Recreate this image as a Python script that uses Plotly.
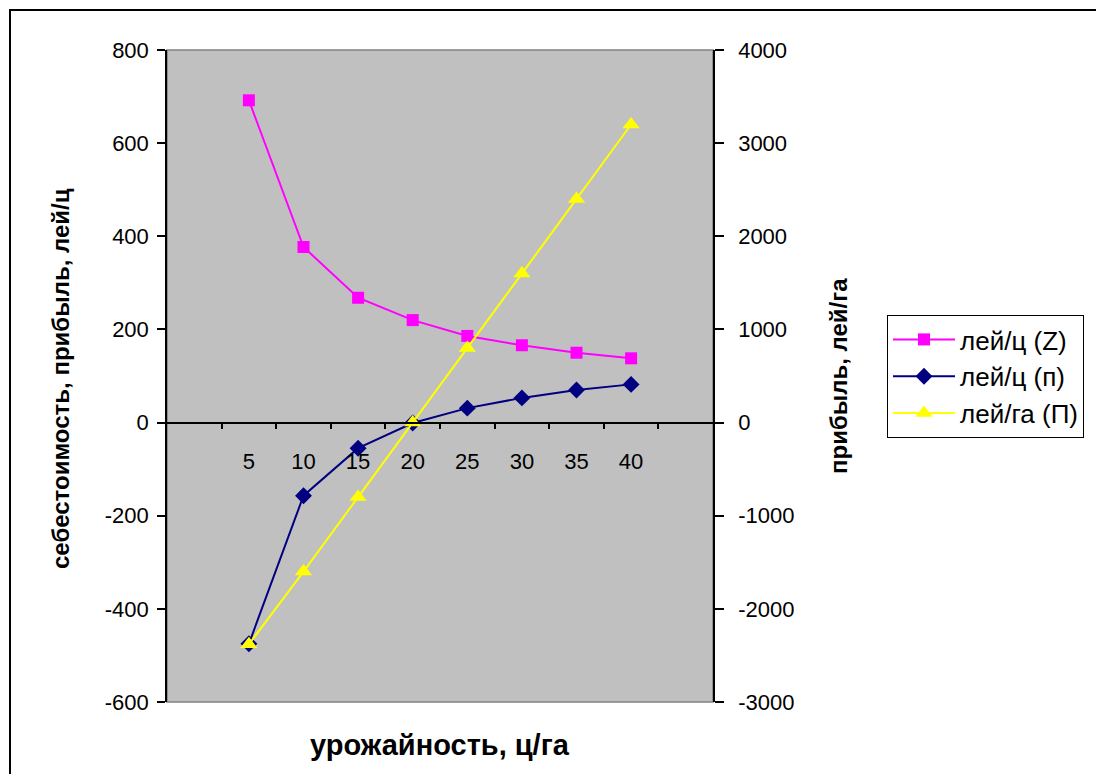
import plotly.graph_objects as go

# Data
yield_cats = [5, 10, 15, 20, 25, 30, 35, 40]
cost_Z = [692, 377, 268, 220, 186, 166, 150, 138]
profit_p = [-475, -157, -55, -1, 31, 53, 70, 82]
profit_P = [-2380, -1600, -800, 0, 800, 1600, 2400, 3200]
left_ticks = [-600, -400, -200, 0, 200, 400, 600, 800]
right_ticks = [-3000, -2000, -1000, 0, 1000, 2000, 3000, 4000]

series_names = ["лей/ц (Z)", "лей/ц (п)", "лей/га (П)"]
x_title = "урожайность, ц/га"
y_title = "себестоимость, прибыль, лей/ц"
y2_title = "прибыль, лей/га"

FONT = "Liberation Sans, Arial, sans-serif"
TICK_SIZE = 22

# plot area in page pixels: x 167..713, y 50..702 (page body has 8px margin)
PX0, PW, PY0, PH = 167, 546, 50, 652
def px(X):
    return (X - PX0) / PW
def py(Y):
    return (PY0 + PH - Y) / PH

fig = go.Figure()
fig.add_trace(go.Scatter(x=yield_cats, y=cost_Z, name=series_names[0], mode="lines+markers",
                         line=dict(color="#ff00ff", width=2),
                         marker=dict(symbol="square", size=12, color="#ff00ff")))
fig.add_trace(go.Scatter(x=yield_cats, y=profit_p, name=series_names[1], mode="lines+markers",
                         line=dict(color="#000080", width=2),
                         marker=dict(symbol="diamond", size=13, color="#000080")))
fig.add_trace(go.Scatter(x=yield_cats, y=profit_P, name=series_names[2], mode="lines+markers",
                         yaxis="y2",
                         line=dict(color="#ffff00", width=2),
                         marker=dict(symbol="triangle-up", size=15, color="#ffff00")))

xrange = [yield_cats[0] - 7.5, yield_cats[-1] + 7.5]
boundaries = [v - 2.5 for v in yield_cats] + [yield_cats[-1] + 2.5]
zero_pos = (0 - left_ticks[0]) / (left_ticks[-1] - left_ticks[0])

fig.update_layout(
    width=1088, height=766,
    margin=dict(l=PX0 - 8, r=1088 - (PX0 - 8) - PW, t=PY0 - 8, b=766 - (PY0 - 8) - PH),
    paper_bgcolor="white", plot_bgcolor="#c0c0c0",
    font=dict(family=FONT, size=TICK_SIZE, color="black"),
    showlegend=True,
    legend=dict(x=px(887), y=py(315), xanchor="left", yanchor="top",
                bgcolor="white", bordercolor="black", borderwidth=1,
                font=dict(family=FONT, size=26, color="black"), itemwidth=62,
                tracegroupgap=0),
    xaxis=dict(range=xrange, anchor="free", position=zero_pos, side="bottom",
               showline=True, linecolor="black", linewidth=1.5,
               tickmode="array", tickvals=yield_cats, ticktext=[str(v) for v in yield_cats],
               ticks="", ticklabelstandoff=19, showgrid=False, zeroline=False,
               minor=dict(tickmode="array", tickvals=boundaries, ticks="outside",
                          ticklen=6, tickcolor="black", tickwidth=1.5, showgrid=False)),
    xaxis3=dict(range=xrange, overlaying="x", anchor="free", position=zero_pos, side="bottom",
                showline=False, tickmode="array", tickvals=boundaries, ticks="inside",
                ticklen=6, tickcolor="black", tickwidth=1.5, showticklabels=False,
                showgrid=False, zeroline=False),
    yaxis=dict(range=[left_ticks[0], left_ticks[-1]], tickmode="array", tickvals=left_ticks,
               ticktext=[str(v) for v in left_ticks],
               showline=True, linecolor="black", linewidth=1.5, ticks="outside", ticklen=8,
               tickcolor="black", tickwidth=1.5, ticklabelstandoff=4,
               showgrid=False, zeroline=False),
    yaxis3=dict(range=[left_ticks[0], left_ticks[-1]], overlaying="y", side="left",
                anchor="x", tickmode="array", tickvals=left_ticks, ticks="inside", ticklen=8,
                tickcolor="black", tickwidth=1.5, showticklabels=False, showline=False,
                showgrid=False, zeroline=False),
    yaxis2=dict(range=[right_ticks[0], right_ticks[-1]], overlaying="y", side="right",
                anchor="x", tickmode="array", tickvals=right_ticks,
                ticktext=[str(v) for v in right_ticks],
                showline=True, linecolor="black", linewidth=1.5, ticks="outside", ticklen=9,
                tickcolor="black", tickwidth=1.5, ticklabelstandoff=10,
                showgrid=False, zeroline=False),
    yaxis4=dict(range=[right_ticks[0], right_ticks[-1]], overlaying="y", side="right",
                anchor="x", tickmode="array", tickvals=right_ticks, ticks="inside", ticklen=9,
                tickcolor="black", tickwidth=1.5, showticklabels=False, showline=False,
                showgrid=False, zeroline=False),
    annotations=[
        dict(text=f"<b>{x_title}</b>", xref="paper", yref="paper",
             x=0.5, y=py(745), xanchor="center", yanchor="middle",
             showarrow=False, font=dict(family=FONT, size=29, color="black")),
        dict(text=f"<b>{y_title}</b>", xref="paper", yref="paper", textangle=-90,
             x=px(60), y=py(379), xanchor="center", yanchor="middle",
             showarrow=False, font=dict(family=FONT, size=24, color="black")),
        dict(text=f"<b>{y2_title}</b>", xref="paper", yref="paper", textangle=-90,
             x=px(838), y=0.5, xanchor="center", yanchor="middle",
             showarrow=False, font=dict(family=FONT, size=24, color="black")),
    ],
    shapes=[
        dict(type="rect", xref="x domain", yref="y domain", x0=0, x1=1, y0=0, y1=1,
             line=dict(color="#808080", width=1.5), layer="below"),
        dict(type="rect", xref="paper", yref="paper",
             x0=px(10), x1=px(1110), y0=py(790), y1=py(10),
             line=dict(color="black", width=2), fillcolor="rgba(0,0,0,0)", layer="below"),
    ],
)

fig.write_html("out.html")
